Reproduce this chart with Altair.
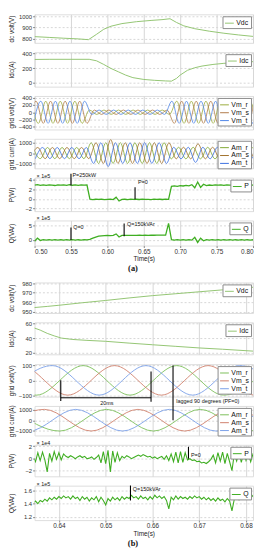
import altair as alt
import pandas as pd

FONT = "Liberation Sans"
GRID = "#d6d6d6"
W = 222

# ------------------------- panel (a) data -------------------------
vdc_a_t = [0.500, 0.520, 0.540, 0.560, 0.574, 0.585, 0.595, 0.605, 0.620, 0.640,
           0.660, 0.675, 0.686, 0.695, 0.705, 0.720, 0.740, 0.760, 0.780, 0.800]
vdc_a_v = [820, 813, 806, 800, 793, 840, 885, 912, 935, 952,
           963, 970, 978, 945, 915, 890, 868, 850, 835, 822]

idc_a_t = [0.500, 0.520, 0.550, 0.575, 0.585, 0.595, 0.605, 0.615, 0.625, 0.635, 0.650, 0.665,
           0.680, 0.688, 0.695, 0.700, 0.710, 0.720, 0.730, 0.745, 0.760, 0.780, 0.800]
idc_a_v = [318, 320, 320, 320, 300, 250, 195, 150, 105, 70, 45, 33,
           25, 22, 60, 105, 170, 205, 228, 250, 265, 278, 288]

# grid voltage (a): successive peaks/troughs, one every half period (10 ms)
vm_a_start = {"Vm_r": 0.4953, "Vm_s": 0.4920, "Vm_t": 0.4986}
vm_a_peaks = {
    "Vm_r": [305, -305, 305, -305, 305, -305, 305, -305,
             60, -60, 60, -60, 60, -60, 60, -60, 60, -60, 60, -60,
             305, -305, 305, -305, 305, -305, 305, -305, 305, -305, 305, -305],
    "Vm_s": [-305, 305, -305, 305, -305, 305, -305, 305, -305,
             60, -60, 60, -60, 60, -60, 60, -60, 60, -60, 60,
             -305, 305, -305, 305, -305, 305, -305, 305, -305, 305, -305, 305],
    "Vm_t": [-305, 305, -305, 305, -305, 305, -305, 305,
             -60, 60, -60, 60, -60, 60, -60, 60, -60, 60, -60,
             305, -305, 305, -305, 305, -305, 305, -305, 305, -305, 305, -305, 305],
}
# grid current (a)
am_a_start = {"Am_r": 0.4978, "Am_s": 0.4945, "Am_t": 0.5011}
am_a_peaks = {
    "Am_r": [540, -540, 540, -540, 540, -540, 540, -540,
             1000, -1000, 1000, -1000, 1000, -1000, 1000, -1000, 1000, -1000, 1000,
             -560, 560, -560, 560, -560, 560, -560, 560, -560, 560, -560, 560, -560],
    "Am_s": [-540, 540, -540, 540, -540, 540, -540, 540, -540,
             1000, -1000, 1300, -1000, 1000, -1000, 1000, -1000, 1000, -1000, 1000,
             -560, 560, -560, 900, -560, 560, -560, 560, -560, 560, -560, 560],
    "Am_t": [-540, 540, -540, 540, -540, 540, -540, 540,
             -1000, 1000, -1300, 1000, -1000, 1000, -1000, 1000, -1000, 1000, -1000,
             560, -560, 560, -900, 560, -560, 560, -560, 560, -560, 560, -560, 560],
}

p_a_start, p_a_step = 0.500, 0.004
p_a = [2.85, 2.95, 2.80, 2.90, 2.82, 2.93, 2.86, 2.78, 2.92, 2.84,
       2.90, 2.81, 2.94, 2.83, 2.89, 2.80, 2.92, 2.85, 2.88, -0.05,
       -0.15, -0.08, -0.12, -0.05, -0.15, -0.10, -0.06, -0.14, 0.35, -0.45,
       -0.10, -0.08, -0.14, -0.06, -0.12, -0.08, -0.13, -0.05, -0.11, -0.09,
       -0.14, -0.06, -0.12, -0.08, -0.13, -0.07, -0.10, 2.60, 2.70, 2.62,
       2.75, 2.68, 2.80, 2.72, 2.95, 2.30, 3.50, 2.40, 3.05, 2.75,
       2.88, 2.80, 2.92, 2.84, 2.90, 2.82, 2.93, 2.85, 2.88, 2.81,
       2.94, 2.84, 2.90, 2.83, 2.91, 2.86]
q_a = [-0.5, 0.6, -0.2, 0.1, -0.1, 0.1, -0.05, 0.08, -0.1, 0.05,
       -0.08, 0.1, -0.05, 0.07, -0.1, 0.05, -0.06, 0.1, 0.0, 0.2,
       0.6, 1.0, 1.3, 1.45, 1.5, 1.55, 1.5, 1.6, 2.1, 1.0,
       1.6, 1.55, 1.6, 1.55, 1.62, 1.58, 1.65, 1.6, 1.66, 1.62,
       1.68, 1.63, 1.7, 1.65, 1.7, 1.66, 5.8, 0.1, -0.1, 0.08,
       -0.05, 0.1, -0.08, 0.05, -0.1, 0.9, -0.9, 0.6, -0.3, 0.1,
       -0.05, 0.08, -0.1, 0.05, -0.06, 0.1, -0.05, 0.07, -0.1, 0.05,
       -0.08, 0.1, -0.05, 0.06, -0.08, 0.05]

# ------------------------- panel (b) data -------------------------
vdc_b_t = [0.6345, 0.6375, 0.640, 0.645, 0.650, 0.655, 0.660, 0.665, 0.670, 0.675, 0.680, 0.682]
vdc_b_v = [954.5, 955.8, 957.0, 959.6, 962.0, 964.6, 967.0, 969.0, 971.0, 973.0, 975.0, 976.0]

idc_b_t = [0.6345, 0.636, 0.6375, 0.639, 0.6405, 0.643, 0.646, 0.650, 0.655, 0.660, 0.665, 0.670, 0.675, 0.682]
idc_b_v = [54.5, 51.0, 46.5, 43.0, 40.0, 38.0, 36.8, 35.5, 33.0, 30.7, 28.5, 26.3, 24.5, 21.7]

vm_b = {
    "Vm_r": ([0.6252, 0.6352, 0.6452, 0.6552, 0.6652, 0.6752, 0.6852], [100, -100, 100, -100, 100, -100, 100]),
    "Vm_s": ([0.6219, 0.6319, 0.6419, 0.6519, 0.6619, 0.6719, 0.6819, 0.6919], [-100, 100, -100, 100, -100, 100, -100, 100]),
    "Vm_t": ([0.6286, 0.6386, 0.6486, 0.6586, 0.6686, 0.6786, 0.6886], [-100, 100, -100, 100, -100, 100, -100]),
}
am_b = {
    "Am_r": ([0.6302, 0.6402, 0.6502, 0.6602, 0.6702, 0.6802, 0.6902], [1050, -1050, 1050, -1050, 1050, -1050, 1050]),
    "Am_s": ([0.6269, 0.6369, 0.6469, 0.6569, 0.6669, 0.6769, 0.6869], [-1050, 1050, -1050, 1050, -1050, 1050, -1050]),
    "Am_t": ([0.6236, 0.6336, 0.6436, 0.6536, 0.6636, 0.6736, 0.6836], [1050, -1050, 1050, -1050, 1050, -1050, 1050]),
}

pq_b_start, pq_b_step = 0.6345, 0.0005
p_b = [0.2, -0.6, 0.9, -0.4, 1.0, -0.3, -2.3, 0.8, -0.5, 1.1, -0.2, 0.9, -0.3, 0.7,
       0.3, 0.1, 0.4, 0.2, -0.1, 0.2, 0.4, 0.1, 0.3, -0.1, 0.0, 0.2, -0.2, 0.1,
       0.5, -0.8, 1.1, -0.9, 1.3, -2.3, 1.2, -0.7, 0.9, -0.4,
       0.3, 0.0, 0.4, 0.2, -0.1, 0.1, 0.3, 0.5, 0.3, 0.6, 0.4, 0.2, 0.3, 0.0, 0.2, -0.1, 0.1, 0.3, -0.2, 0.4,
       -0.4, 0.7, -0.6, 1.0, -0.8, 1.1, -0.7, 0.9,
       -0.3, -0.1, -0.4, -0.3, -0.6, -0.5, -0.8, -0.7, -0.9, -0.6,
       -0.2, 0.5, -0.8, 0.9, -0.5, 1.0, -0.9, 0.8, -0.6, -2.1, 0.7, -0.5, 1.0, -0.7, 0.9, -0.4, 0.8, -0.6, 0.7, 0.1]
q_b = [1.41, 1.44, 1.40, 1.45, 1.43, 1.47, 1.44, 1.49, 1.46, 1.50,
       1.47, 1.51, 1.48, 1.52, 1.49, 1.51, 1.47, 1.52, 1.48, 1.50,
       1.45, 1.51, 1.47, 1.50, 1.44, 1.49, 1.46, 1.51, 1.43, 1.50,
       1.45, 1.38, 1.48, 1.44, 1.50, 1.46, 1.49, 1.45, 1.51, 1.47,
       1.50, 1.48, 1.53, 1.49, 1.51, 1.47, 1.52, 1.48, 1.50, 1.46,
       1.51, 1.47, 1.53, 1.49, 1.52, 1.48, 1.51, 1.45, 1.32, 1.50,
       1.46, 1.52, 1.47, 1.51, 1.48, 1.50, 1.47, 1.51, 1.48, 1.52,
       1.49, 1.51, 1.47, 1.50, 1.46, 1.49, 1.45, 1.48, 1.44, 1.49,
       1.45, 1.47, 1.43, 1.48, 1.44, 1.29, 1.47, 1.50, 1.46, 1.52,
       1.48, 1.54, 1.50, 1.55, 1.51, 1.53]


# ------------------------- helpers -------------------------
def series_df(ts, vs, name):
    return pd.DataFrame({"t": ts, "v": vs, "s": [name] * len(ts)})


def grid_df(start, step, vs, name):
    return series_df([start + step * i for i in range(len(vs))], vs, name)


def peaks_df(starts, peaks, half=0.01):
    frames = []
    for name, vals in peaks.items():
        frames.append(grid_df(starts[name], half, vals, name))
    return pd.concat(frames, ignore_index=True)


def pairs_df(d):
    return pd.concat([series_df(ts, vs, n) for n, (ts, vs) in d.items()], ignore_index=True)


def panel(df, names, colors, ydom, yticks, ytitle, h, xdom, xticks, bottom=False,
          sw=1.0, interp="linear", yfmt="d", rules=None, hrules=None, texts=None,
          expo=None, title=None):
    xs = alt.Scale(domain=xdom, nice=False, zero=False)
    ys = alt.Scale(domain=ydom, nice=False, zero=False)
    if bottom:
        xax = alt.Axis(values=xticks, format=".2f", title="Time(s)", labelFontSize=6.5,
                       labelFont=FONT, titleFont=FONT, titleFontSize=6.5, titleFontWeight="normal",
                       labelPadding=1, titlePadding=1, tickSize=2, tickColor="#888",
                       domain=False, grid=True, gridColor=GRID, labelColor="#333", titleColor="#222")
    else:
        xax = alt.Axis(values=xticks, labels=False, ticks=False, domain=False, title=None,
                       grid=True, gridColor=GRID)
    yax = alt.Axis(values=yticks, format=yfmt, title=ytitle, titleFont=FONT, titleFontSize=6.5,
                   titleFontWeight="normal", titleColor="#222", titleX=-23, titleY=h / 2,
                   titleAngle=270, titleAlign="center", titleBaseline="middle",
                   labelFontSize=6, labelFont=FONT, labelColor="#333", labelPadding=1,
                   tickSize=2, tickColor="#888", domain=False, grid=True,
                   gridDash=[2, 2], gridColor=GRID)
    X = alt.X("t:Q", scale=xs, axis=xax)
    Y = alt.Y("v:Q", scale=ys, axis=yax)
    leg = alt.Legend(title=None, orient="top-right", offset=2, fillColor="white",
                     strokeColor="#8a8a8a", padding=2, symbolType="stroke", symbolSize=80,
                     symbolStrokeWidth=1, labelFontSize=7, labelFont=FONT, labelColor="#111",
                     rowPadding=0, labelOffset=2)
    layers = [alt.Chart(df).mark_line(clip=True, strokeWidth=sw, interpolate=interp).encode(
        x=X, y=Y, color=alt.Color("s:N", scale=alt.Scale(domain=names, range=colors), legend=leg))]
    if rules is not None:
        layers.append(alt.Chart(rules).mark_rule(color="black", strokeWidth=1.1).encode(
            x=X, y=Y, y2=alt.Y2("v2:Q")))
    if hrules is not None:
        layers.append(alt.Chart(hrules).mark_rule(color="black", strokeWidth=1).encode(
            x=X, x2=alt.X2("t2:Q"), y=Y))
    if texts is not None:
        layers.append(alt.Chart(texts).mark_text(align="left", baseline="middle", dx=1.5,
                                                 fontSize=5.5, font=FONT, color="#111").encode(
            x=X, y=Y, text="label:N"))
    if expo is not None:
        layers.append(alt.Chart(pd.DataFrame({"a": [0]})).mark_text(
            align="left", baseline="bottom", fontSize=5.5, font=FONT, color="#222").encode(
            x=alt.value(2), y=alt.value(1), text=alt.value(expo)))
    ch = alt.layer(*layers).properties(width=W, height=h)
    if title is not None:
        ch = ch.properties(title=alt.TitleParams(title, orient="bottom", font="Liberation Serif",
                                                 fontSize=8.5, fontWeight="bold", offset=2, dx=-11,
                                                 color="#111"))
    return ch


GREEN_DC = "#93c572"
PQ = "#3fae22"
XA = [0.50, 0.80]
XA_T = [0.50, 0.55, 0.60, 0.65, 0.70, 0.75, 0.80]
XB = [0.6348, 0.6815]
XB_T = [0.64, 0.65, 0.66, 0.67, 0.68]

# ------------------------- panels (a) -------------------------
a1 = panel(series_df(vdc_a_t, vdc_a_v, "Vdc"), ["Vdc"], [GREEN_DC], [765, 1017], [800, 900, 1000],
           "dc volt(V)", 29, XA, XA_T)
a2 = panel(series_df(idc_a_t, idc_a_v, "Idc"), ["Idc"], [GREEN_DC], [-53, 417], [0, 200, 400],
           "Idc(A)", 35, XA, XA_T)
a3 = panel(peaks_df(vm_a_start, vm_a_peaks), ["Vm_r", "Vm_s", "Vm_t"],
           ["#9aab3c", "#b07a48", "#4f86e8"], [-473, 446], [-400, -200, 0, 200, 400],
           "grid volt(V)", 34, XA, XA_T, sw=0.8, interp="monotone")
a4 = panel(peaks_df(am_a_start, am_a_peaks), ["Am_r", "Am_s", "Am_t"],
           ["#7fa832", "#a0702a", "#3a6fe0"], [-1476, 1381], [-1000, 0, 1000],
           "grid curr(A)", 30, XA, XA_T, sw=0.8, interp="monotone")
a5 = panel(grid_df(p_a_start, p_a_step, p_a, "P"), ["P"], [PQ], [-2.55, 4.41], [-2, 0, 2, 4],
           "P(W)", 34, XA, XA_T, sw=1.3,
           rules=pd.DataFrame({"t": [0.55, 0.638], "v": [2.8, 2.4], "v2": [5.2, -0.1]}),
           texts=pd.DataFrame({"t": [0.55, 0.640], "v": [5.0, 3.4], "label": ["P=250kW", "P=0"]}),
           expo="× 1e5")
a6 = panel(grid_df(p_a_start, p_a_step, q_a, "Q"), ["Q"], [PQ], [-2.0, 6.84], [0, 5],
           "Q(VAr)", 25.5, XA, XA_T, bottom=True, sw=1.3,
           rules=pd.DataFrame({"t": [0.55, 0.623], "v": [0.0, 1.3], "v2": [4.4, 5.8]}),
           texts=pd.DataFrame({"t": [0.551, 0.625], "v": [4.4, 5.6], "label": ["Q=0", "Q=150kVAr"]}),
           expo="× 1e5", title="(a)")

# spacer between (a) and (b)
spacer = alt.Chart(pd.DataFrame({"a": [0]})).mark_point(opacity=0).encode(
    x=alt.value(0), y=alt.value(0)).properties(width=W, height=18, view=alt.ViewBackground(strokeOpacity=0))

# ------------------------- panels (b) -------------------------
b1 = panel(series_df(vdc_b_t, vdc_b_v, "Vdc"), ["Vdc"], [GREEN_DC], [949, 980.7], [950, 960, 970, 980],
           "dc volt(V)", 31, XB, XB_T)
b2 = panel(series_df(idc_b_t, idc_b_v, "Idc"), ["Idc"], [GREEN_DC], [17.5, 61.8], [20, 40, 60],
           "Idc(A)", 32.5, XB, XB_T)
b3 = panel(pairs_df(vm_b), ["Vm_r", "Vm_s", "Vm_t"], ["#7cbf5a", "#d0806c", "#7aa0e8"],
           [-110, 110], [-100, 0, 100], "grid volt(V)", 33, XB, XB_T, sw=0.9, interp="monotone",
           rules=pd.DataFrame({"t": [0.6404, 0.6597, 0.6644], "v": [0, 60, 100], "v2": [-140, -145, -175]}),
           hrules=pd.DataFrame({"t": [0.6404], "t2": [0.6597], "v": [-118]}),
           texts=pd.DataFrame({"t": [0.6485, 0.6648], "v": [-153, -142],
                               "label": ["20ms", "lagged 90 degrees (PF=0)"]}))
b4 = panel(pairs_df(am_b), ["Am_r", "Am_s", "Am_t"], ["#7cbf5a", "#d0806c", "#7aa0e8"],
           [-1476, 1381], [-1000, 0, 1000], "grid curr(A)", 30, XB, XB_T, sw=0.9, interp="monotone",
           rules=pd.DataFrame({"t": [0.6644], "v": [1381], "v2": [0]}))
b5 = panel(grid_df(pq_b_start, pq_b_step, p_b, "P"), ["P"], [PQ], [-3.03, 2.22], [-2, 0, 2],
           "P(W)", 32, XB, XB_T, sw=1.1,
           rules=pd.DataFrame({"t": [0.6677], "v": [1.9], "v2": [-0.1]}),
           texts=pd.DataFrame({"t": [0.6679], "v": [0.6], "label": ["P=0"]}),
           expo="× 1e4")
b6 = panel(grid_df(pq_b_start, pq_b_step, q_b, "Q"), ["Q"], [PQ], [1.148, 1.678], [1.2, 1.4, 1.6],
           "Q(VAr)", 35, XB, XB_T, bottom=True, sw=1.1, yfmt=".1f",
           rules=pd.DataFrame({"t": [0.6553], "v": [1.68], "v2": [1.45]}),
           texts=pd.DataFrame({"t": [0.6555], "v": [1.62], "label": ["Q=150kVAr"]}),
           expo="× 1e5", title="(b)")

chart = alt.vconcat(a1, a2, a3, a4, a5, a6, spacer, b1, b2, b3, b4, b5, b6,
                    spacing=9.5, bounds="flush",
                    padding={"left": 0, "top": 0, "right": 0, "bottom": 0}).resolve_scale(
    x="independent", y="independent", color="independent").resolve_legend(
    color="independent").configure_view(stroke="#999999", strokeWidth=1).configure(background="white")

chart.save("out.html", embed_options={"renderer": "svg", "actions": False})
